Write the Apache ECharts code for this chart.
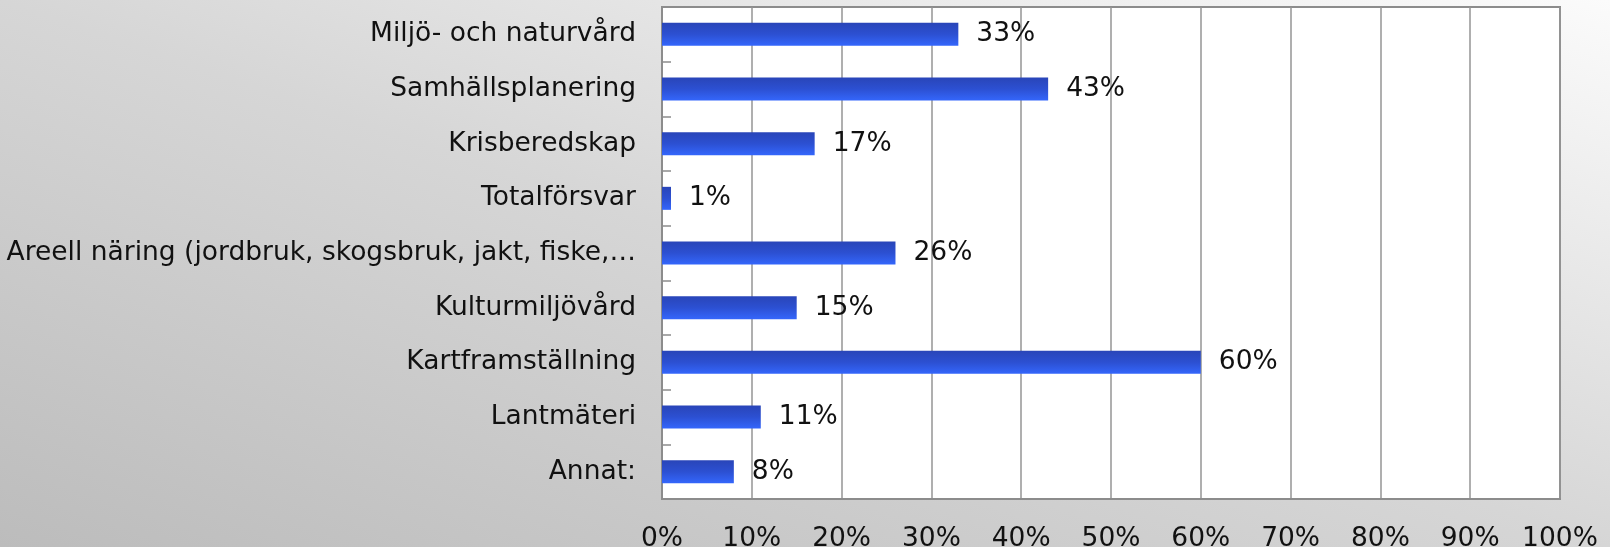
<!DOCTYPE html>
<html>
<head>
<meta charset="utf-8">
<script src="https://cdn.jsdelivr.net/npm/echarts@6/dist/echarts.min.js"></script>
<style>
html,body{margin:0;padding:0;}
#c{width:1610px;height:547px;background:linear-gradient(to bottom left,#fbfbfb 0%,#d6d6d6 50%,#bcbcbc 100%);}
</style>
</head>
<body>
<div id="c"></div>
<script>
const categories = ["Miljö- och naturvård","Samhällsplanering","Krisberedskap","Totalförsvar","Areell näring (jordbruk, skogsbruk, jakt, fiske,…","Kulturmiljövård","Kartframställning","Lantmäteri","Annat:"];
const values = [33,43,17,1,26,15,60,11,8];
const xTicks = [0,10,20,30,40,50,60,70,80,90,100];

const chart = echarts.init(document.getElementById('c'), null, {renderer:'canvas'});
const font = 'DejaVu Sans, Verdana, sans-serif';
chart.setOption({
  animation:false,
  grid:{left:662,right:50,top:7,bottom:48,containLabel:false,outerBoundsMode:'none',show:true,backgroundColor:'#ffffff',borderColor:'#8c8c8c',borderWidth:2},
  xAxis:{
    type:'value',min:0,max:100,interval:10,
    axisLine:{show:true,lineStyle:{color:'#8c8c8c',width:2}},
    axisTick:{show:false},
    splitLine:{show:true,lineStyle:{color:'#949494',width:1.5}},
    axisLabel:{margin:27,color:'#111',fontSize:26.5,fontFamily:font,formatter:v=>xTicks.includes(v)?v+'%':''}
  },
  yAxis:{
    type:'category',inverse:true,data:categories,
    axisLine:{show:true,lineStyle:{color:'#8c8c8c',width:2}},
    axisTick:{show:true,inside:true,length:9,lineStyle:{color:'#8c8c8c',width:1.5}},
    axisLabel:{margin:26,color:'#111',fontSize:26.5,fontFamily:font}
  },
  series:[{
    type:'bar',data:values,barWidth:23,
    itemStyle:{color:new echarts.graphic.LinearGradient(0,0,0,1,[
      {offset:0,color:'#2945b8'},{offset:0.5,color:'#2c50d2'},{offset:1,color:'#3466fb'}])},
    label:{show:true,position:'right',distance:18,formatter:'{c}%',color:'#111',fontSize:26.5,fontFamily:font}
  }]
});
</script>
</body>
</html>
